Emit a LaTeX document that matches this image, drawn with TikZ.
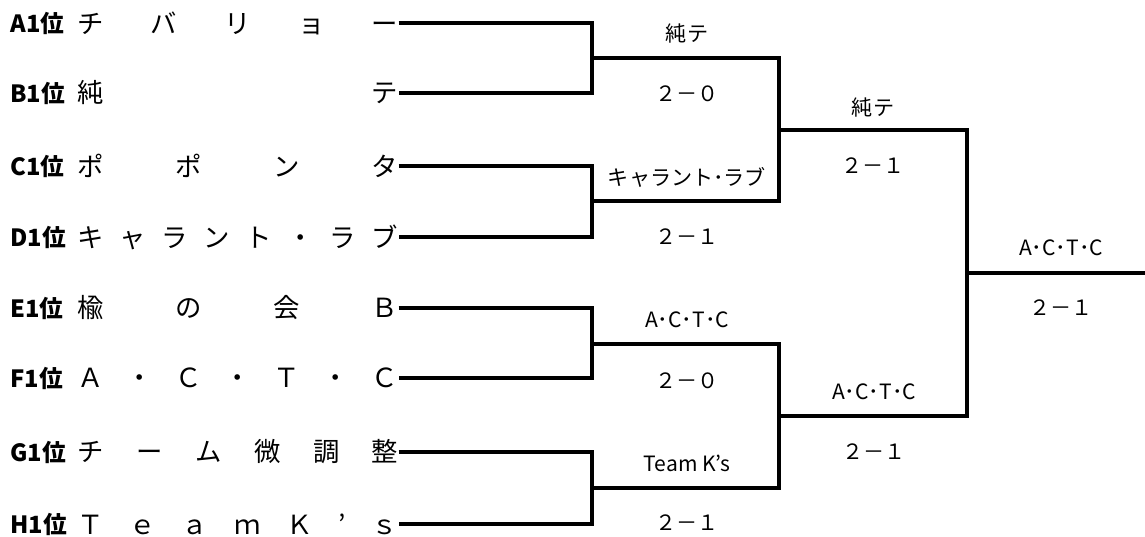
\documentclass[tikz,border=0pt]{standalone}
\usepackage{fontspec}
\setmainfont{Noto Sans CJK JP}
\usepackage{tikz}
\usetikzlibrary{positioning}

\tikzset{
  seed/.style={anchor=west, inner sep=0pt, font=\fontsize{13.5}{15}\selectfont\bfseries},
  team/.style={anchor=west, inner sep=0pt, font=\fontsize{15}{17}\selectfont},
  result/.style={inner sep=0pt, font=\fontsize{12}{14}\selectfont},
  bracket/.style={line width=1.8pt}
}
\newcommand{\teamname}[1]{\makebox[6.42cm][s]{#1}}

\begin{document}
\begin{tikzpicture}[x=0.02cm, y=-0.02cm]
\useasboundingbox (0,0) rectangle (1145,537);

% entrants
\foreach \id/\seedtxt/\y/\nm in {
    a/A1位/23/{チ\hfill バ\hfill リ\hfill ョ\hfill ー},
    b/B1位/93/{純\hfill テ},
    c/C1位/166/{ポ\hfill ポ\hfill ン\hfill タ},
    d/D1位/237/{キ\hfill ャ\hfill ラ\hfill ン\hfill ト\hfill ・\hfill ラ\hfill ブ},
    e/E1位/308/{楡\hfill の\hfill 会\hfill Ｂ},
    f/F1位/378/{Ａ\hfill ・\hfill Ｃ\hfill ・\hfill Ｔ\hfill ・\hfill Ｃ},
    g/G1位/452/{チ\hfill ー\hfill ム\hfill 微\hfill 調\hfill 整},
    h/H1位/524/{Ｔ\hfill ｅ\hfill ａ\hfill ｍ\hfill Ｋ\hfill ’\hfill ｓ}}{
  \node[seed] (\id-seed) at (10,\y) {\seedtxt};
  \node[team] (\id-name) at (77,\y) {\teamname{\nm}};
}

% bracket joints
\coordinate (ab) at (592,58);
\coordinate (cd) at (592,201);
\coordinate (ef) at (592,344);
\coordinate (gh) at (592,488);
\coordinate (abcd) at (779,130);
\coordinate (efgh) at (779,416);
\coordinate (final) at (967,273);
\coordinate (champ) at (1145,273);

\draw[bracket] (a-name.east) -| (ab) |- (b-name.east);
\draw[bracket] (c-name.east) -| (cd) |- (d-name.east);
\draw[bracket] (e-name.east) -| (ef) |- (f-name.east);
\draw[bracket] (g-name.east) -| (gh) |- (h-name.east);
\draw[bracket] (ab) -| (abcd) |- (cd);
\draw[bracket] (ef) -| (efgh) |- (gh);
\draw[bracket] (abcd) -| (final) |- (efgh);
\draw[bracket] (final) -- (champ);

% winners and scores
\node[result] (ab-win) at (687,34) {純テ};
\node[result] (ab-score) at (687,94) {２－０};
\node[result] (cd-win) at (687,177) {キャラント･ラブ};
\node[result] (cd-score) at (687,237) {２－１};
\node[result] (ef-win) at (687,320) {A･C･T･C};
\node[result] (ef-score) at (687,381) {２－０};
\node[result] (gh-win) at (687,463) {Team K’s};
\node[result] (gh-score) at (687,523) {２－１};
\node[result] (abcd-win) at (873,108) {純テ};
\node[result] (abcd-score) at (873,166) {２－１};
\node[result] (efgh-win) at (874,392) {A･C･T･C};
\node[result] (efgh-score) at (874,452) {２－１};
\node[result] (final-win) at (1061,248) {A･C･T･C};
\node[result] (final-score) at (1061,308) {２－１};
\end{tikzpicture}
\end{document}
